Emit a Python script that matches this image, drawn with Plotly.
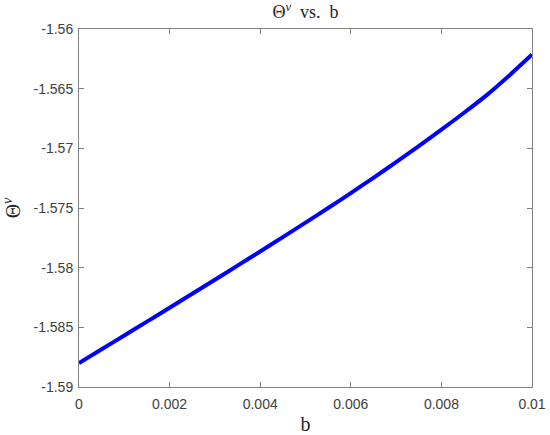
import plotly.graph_objects as go

b_vals = [0.0, 0.0005, 0.001, 0.0015, 0.002, 0.0025, 0.003, 0.0035, 0.004, 0.0045,
          0.005, 0.0055, 0.006, 0.0065, 0.007, 0.0075, 0.008, 0.0085, 0.009, 0.0095, 0.01]
theta_v = [-1.58800, -1.58684, -1.58568, -1.58452, -1.58336, -1.58219, -1.58101, -1.57983,
           -1.57864, -1.57744, -1.57623, -1.57500, -1.57375, -1.57247, -1.57116, -1.56982,
           -1.56844, -1.56702, -1.56554, -1.56389, -1.56214]

x_ticks = [0, 0.002, 0.004, 0.006, 0.008, 0.01]
x_ticktext = ["0", "0.002", "0.004", "0.006", "0.008", "0.01"]
y_ticks = [-1.59, -1.585, -1.58, -1.575, -1.57, -1.565, -1.56]
y_ticktext = ["-1.59", "-1.585", "-1.58", "-1.575", "-1.57", "-1.565", "-1.56"]

fig = go.Figure()
fig.add_trace(go.Scatter(x=b_vals, y=theta_v, mode="lines",
                         line=dict(color="#0000ff", width=4, shape="spline", smoothing=0.6),
                         showlegend=False))

axis_common = dict(showline=True, linecolor="#808080", linewidth=1, mirror="ticks",
                   ticks="inside", ticklen=5, tickcolor="#808080", showgrid=False,
                   zeroline=False, automargin=False,
                   tickfont=dict(family="Liberation Sans, Arial", size=14, color="#404040"))

fig.update_layout(
    width=550, height=435,
    margin=dict(l=79, r=18, t=29, b=48),
    paper_bgcolor="white", plot_bgcolor="white",
    title=dict(text="Θ<sup><i>v</i></sup>  vs.  b", x=305.5 / 550, xanchor="center",
               y=1 - 12 / 435, yanchor="middle", yref="container",
               font=dict(family="Liberation Serif, Times New Roman", size=18, color="#262626")),
    xaxis=dict(range=[0, 0.01], tickvals=x_ticks, ticktext=x_ticktext, ticklabelstandoff=4,
               title=dict(text="b", standoff=8,
                          font=dict(family="Liberation Serif, Times New Roman", size=20, color="#262626")),
               **axis_common),
    yaxis=dict(range=[-1.59, -1.56], tickvals=y_ticks, ticktext=y_ticktext, ticklabelstandoff=2,
               title=dict(text="Θ<sup><i>v</i></sup>", standoff=28,
                          font=dict(family="Liberation Serif, Times New Roman", size=20, color="#262626")),
               **axis_common),
)

fig.write_html("out.html", config={"displayModeBar": False},
               post_script="document.body.style.margin='0';")
